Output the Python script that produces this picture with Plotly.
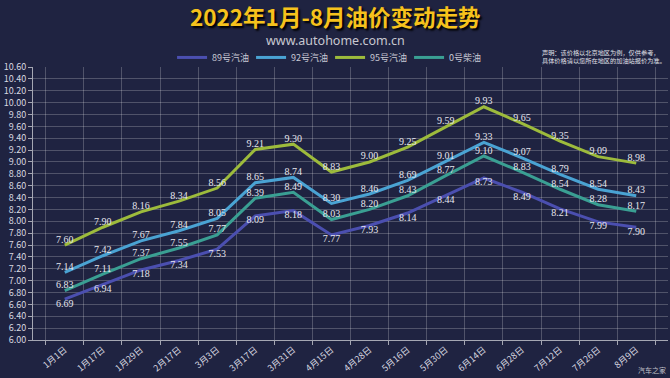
import plotly.graph_objects as go

dates = ["1月1日", "1月17日", "1月29日", "2月17日", "3月3日", "3月17日", "3月31日", "4月15日",
         "4月28日", "5月16日", "5月30日", "6月14日", "6月28日", "7月12日", "7月26日", "8月9日"]
p89 = [6.69, 6.94, 7.18, 7.34, 7.53, 8.09, 8.18, 7.77, 7.93, 8.14, 8.44, 8.73, 8.49, 8.21, 7.99, 7.90]
p92 = [7.14, 7.42, 7.67, 7.84, 8.05, 8.65, 8.74, 8.30, 8.46, 8.69, 9.01, 9.33, 9.07, 8.79, 8.54, 8.43]
p95 = [7.60, 7.90, 8.16, 8.34, 8.56, 9.21, 9.30, 8.83, 9.00, 9.25, 9.59, 9.93, 9.65, 9.35, 9.09, 8.98]
p0 = [6.83, 7.11, 7.37, 7.55, 7.77, 8.39, 8.49, 8.03, 8.20, 8.43, 8.77, 9.10, 8.83, 8.54, 8.28, 8.17]

series = [
    ("89号汽油", p89, "#4b4fb0", "bottom center"),
    ("92号汽油", p92, "#4aa3d3", "top center"),
    ("95号汽油", p95, "#9dbb3c", "top center"),
    ("0号柴油", p0, "#3a9f93", "top center"),
]

BG = "#1f2341"
fig = go.Figure()
for name, vals, color, pos in series:
    fig.add_trace(go.Scatter(
        x=dates, y=vals, name=name, mode="lines+text",
        line=dict(color=color, width=3),
        text=[f"{v:.2f}" for v in vals], textposition=pos,
        textfont=dict(family="Liberation Serif", size=10, color="#e6e6ee"),
        cliponaxis=False,
    ))

fig.update_layout(
    width=670, height=378,
    paper_bgcolor=BG, plot_bgcolor=BG,
    margin=dict(l=33, r=2, t=67, b=38, autoexpand=False),
    font=dict(family="Noto Sans CJK SC", color="#d8d8e0"),
    showlegend=True,
    legend=dict(orientation="h", x=0.219, y=1.035, xanchor="left", yanchor="middle",
                yref="paper", font=dict(size=9, color="#c8c8d4"), bgcolor="rgba(0,0,0,0)",
                entrywidth=34, entrywidthmode="pixels", itemwidth=30, tracegroupgap=0),
    xaxis=dict(
        type="category", tickson="boundaries", showgrid=True,
        gridcolor="rgba(255,255,255,0.22)", gridwidth=1,
        showline=True, linecolor="rgba(255,255,255,0.6)",
        ticks="outside", ticklen=4, tickcolor="rgba(255,255,255,0.6)",
        tickangle=-40, tickfont=dict(size=9, color="#d8d8e0"), automargin=False,
    ),
    yaxis=dict(
        range=[6.0, 10.6], dtick=0.2, tickformat=".2f", showgrid=True,
        gridcolor="rgba(255,255,255,0.22)", gridwidth=1,
        showline=True, linecolor="rgba(255,255,255,0.6)",
        ticks="outside", ticklen=4, tickcolor="rgba(255,255,255,0.6)",
        tickfont=dict(size=9, color="#d8d8e0"), zeroline=False, automargin=False,
    ),
    annotations=[
        dict(text="<b>2022年1月-8月油价变动走势</b>", xref="paper", yref="paper",
             x=0.4756, y=1.0, yanchor="middle", yshift=51, showarrow=False,
             font=dict(size=22.5, color="#f6c21c", family="Noto Sans CJK SC",
                       shadow="2px 2px 2px #000000")),
        dict(text="www.autohome.com.cn", xref="paper", yref="paper",
             x=0.4756, y=1.0, yanchor="middle", yshift=27, showarrow=False,
             font=dict(size=12.5, color="#c8c8d0", family="Noto Sans")),
        dict(text="声明：该价格以北京地区为例，仅供参考，<br>具体价格请以您所在地区的加油站报价为准。",
             xref="paper", yref="paper", x=0.799, y=1.0, xanchor="left", yanchor="middle",
             yshift=11, showarrow=False, align="left",
             font=dict(size=6.2, color="#e0e0e8", family="Noto Sans CJK SC")),
        dict(text="汽车之家", xref="paper", yref="paper", x=1.0, y=0, xanchor="right",
             yanchor="middle", yshift=-30, showarrow=False,
             font=dict(size=7, color="#c0c0c8", family="Noto Sans CJK SC")),
    ],
)

fig.write_html("out.html", config={"displayModeBar": False},
               post_script="document.body.style.margin='0';document.body.style.background='%s';" % BG)
